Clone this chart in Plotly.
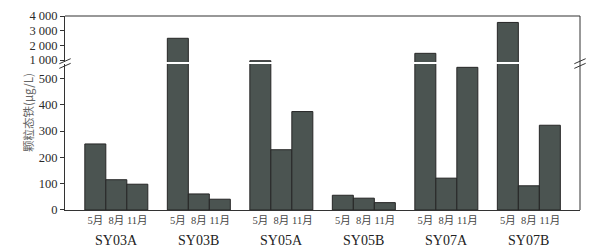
import plotly.graph_objects as go
from plotly.subplots import make_subplots

groups = ["SY03A", "SY03B", "SY05A", "SY05B", "SY07A", "SY07B"]
months = ["5月", "8月", "11月"]
may = [251, 2480, 950, 56, 1455, 3560]
aug = [115, 61, 229, 45, 121, 92]
nov = [98, 41, 374, 28, 542, 322]
series = [may, aug, nov]

top_ticks = [1000, 2000, 3000, 4000]
top_ticktext = ["1 000", "2 000", "3 000", "4 000"]
bot_ticks = [0, 100, 200, 300, 400, 500]

FILL = "#4b5451"
EDGE = "#262626"
SERIF = "Liberation Serif, Times New Roman, Noto Sans CJK SC, serif"

fig = make_subplots(rows=2, cols=1, shared_xaxes=True, vertical_spacing=0.0,
                    row_heights=[0.24, 0.76])

xs = list(range(len(groups)))
for vals, m in zip(series, months):
    for row in (1, 2):
        fig.add_trace(go.Bar(x=xs, y=vals, name=m, marker_color=FILL,
                             marker_line_color=EDGE, marker_line_width=1,
                             showlegend=False, hoverinfo="skip"), row=row, col=1)

W = 0.2545
gap = 1 - 3 * W
fig.update_layout(barmode="group", bargap=gap, bargroupgap=0,
                  width=597, height=251,
                  margin=dict(l=65, r=17, t=16, b=41, autoexpand=False),
                  plot_bgcolor="white", paper_bgcolor="white",
                  font=dict(family=SERIF, color="#333333", size=12))

# domains
fig.update_yaxes(domain=[0.763, 1.0], row=1, col=1)
fig.update_yaxes(domain=[0.0, 0.753], row=2, col=1)

fig.update_yaxes(range=[865, 4000], tickvals=top_ticks, ticktext=top_ticktext,
                 ticks="outside", ticklen=4, tickcolor="#333", showgrid=False,
                 showline=True, linecolor="#333", linewidth=1, zeroline=False,
                 tickfont=dict(size=12.5, family=SERIF, color="#2a2a2a"), row=1, col=1)
fig.update_yaxes(range=[0, 555], tickvals=bot_ticks,
                 ticks="outside", ticklen=4, tickcolor="#333", showgrid=False,
                 showline=True, linecolor="#333", linewidth=1, zeroline=False,
                 tickfont=dict(size=12.5, family=SERIF, color="#2a2a2a"), row=2, col=1)

month_vals = []
month_text = []
for i in xs:
    for k, m in enumerate(months):
        month_vals.append(i + (k - 1) * W)
        month_text.append(m)

fig.update_xaxes(range=[-0.622, 5.62], showgrid=False, zeroline=False,
                 showticklabels=False, row=1, col=1)
fig.update_xaxes(range=[-0.622, 5.62], showgrid=False, zeroline=False,
                 tickvals=month_vals, ticktext=month_text, ticks="", tickangle=0,
                 showline=True, linecolor="#333", linewidth=1.2,
                 tickfont=dict(size=10.5, family=SERIF, color="#444"), row=2, col=1)

# group labels
for i, g in enumerate(groups):
    fig.add_annotation(x=i, xref="x2", y=0, yref="paper", yshift=-30,
                       text=g, showarrow=False, yanchor="middle",
                       font=dict(size=14, family=SERIF, color="#222"))

# y title
fig.add_annotation(x=0, xref="paper", y=0.5, yref="paper", xshift=-47,
                   text="颗粒态铁(μg/L)", textangle=-90, showarrow=False,
                   font=dict(size=11.5, family="Noto Sans CJK SC, serif", color="#666"))

# frame lines (top and right)
fig.add_shape(type="line", xref="paper", yref="paper", x0=0, x1=1, y0=1, y1=1,
              line=dict(color="#333", width=1.2))
fig.add_shape(type="line", xref="paper", yref="paper", x0=1, x1=1, y0=0, y1=1,
              line=dict(color="#333", width=1))

# break marks
for xp in (0.0, 1.0):
    for dy in (-0.012, 0.012):
        fig.add_shape(type="line", xref="paper", yref="paper",
                      x0=xp - 0.011, x1=xp + 0.011,
                      y0=0.742 + dy, y1=0.768 + dy,
                      line=dict(color="#333", width=1))

fig.write_html("out.html", config={"displayModeBar": False},
               post_script="document.body.style.margin='0px';")
